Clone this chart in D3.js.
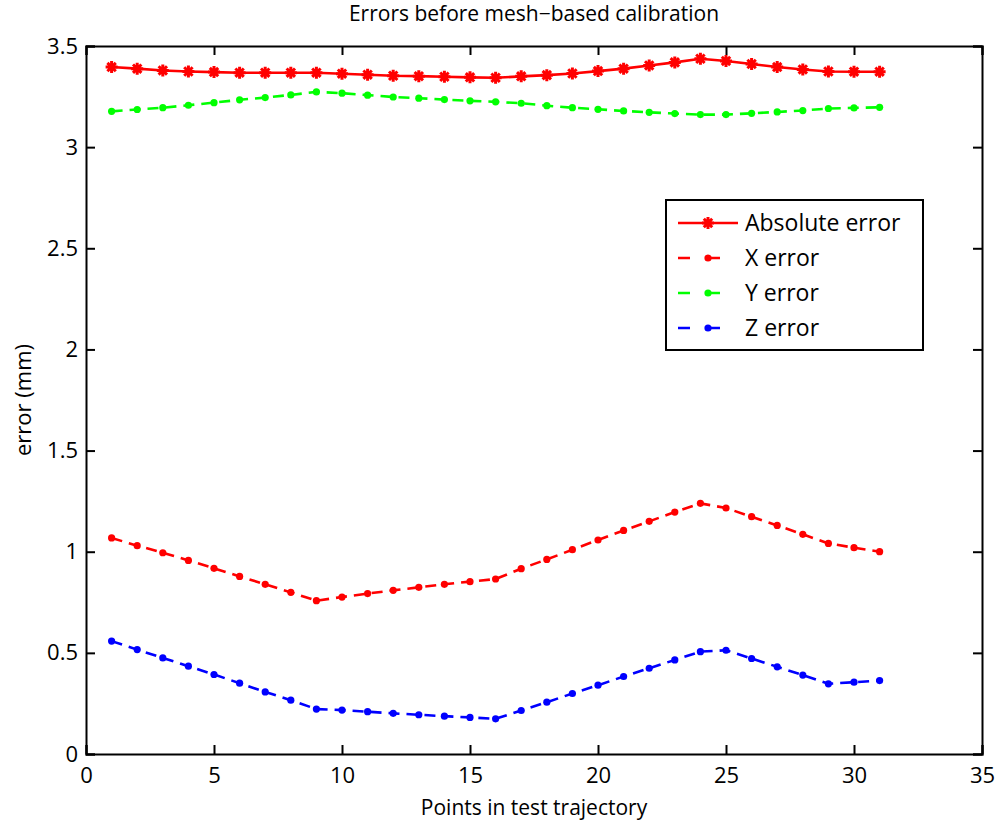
<!DOCTYPE html>
<html>
<head>
<meta charset="utf-8">
<script src="https://cdn.jsdelivr.net/npm/d3@7"></script>
<style>
  body { margin: 0; background: #fff; }
  text { font-family: "Open Sans", "Noto Sans", sans-serif; fill: #000; }
</style>
</head>
<body>
<div id="chart"></div>
<script>
const points = d3.range(1, 32);
const absError = [3.396, 3.388, 3.379, 3.374, 3.371, 3.368, 3.368, 3.368, 3.368, 3.363,
  3.358, 3.353, 3.351, 3.348, 3.345, 3.343, 3.350, 3.356, 3.364, 3.376,
  3.388, 3.404, 3.419, 3.437, 3.426, 3.411, 3.396, 3.384, 3.374, 3.373, 3.373];
const xError = [1.068, 1.030, 0.995, 0.957, 0.918, 0.878, 0.839, 0.799, 0.758, 0.776,
  0.793, 0.809, 0.824, 0.839, 0.852, 0.865, 0.916, 0.962, 1.010, 1.058,
  1.105, 1.150, 1.196, 1.239, 1.216, 1.173, 1.130, 1.086, 1.041, 1.020, 1.000];
const yError = [3.177, 3.186, 3.195, 3.207, 3.220, 3.234, 3.245, 3.258, 3.273, 3.267,
  3.257, 3.248, 3.242, 3.235, 3.229, 3.224, 3.217, 3.205, 3.195, 3.187,
  3.179, 3.172, 3.166, 3.161, 3.161, 3.167, 3.174, 3.181, 3.191, 3.194, 3.197];
const zError = [0.558, 0.516, 0.475, 0.434, 0.393, 0.350, 0.307, 0.266, 0.222, 0.217,
  0.209, 0.201, 0.194, 0.187, 0.181, 0.174, 0.215, 0.256, 0.299, 0.340,
  0.383, 0.424, 0.465, 0.506, 0.513, 0.472, 0.431, 0.390, 0.347, 0.355, 0.363];
const xTicks = [0, 5, 10, 15, 20, 25, 30, 35];
const yTicks = [0, 0.5, 1, 1.5, 2, 2.5, 3, 3.5];

const series = [
  { name: "Absolute error", values: absError, color: "#ff0000", dash: null, marker: "star" },
  { name: "X error", values: xError, color: "#ff0000", dash: "11,7", marker: "dot" },
  { name: "Y error", values: yError, color: "#00ff00", dash: "11,7", marker: "dot" },
  { name: "Z error", values: zError, color: "#0000ff", dash: "11,7", marker: "dot" }
];

const width = 1000, height = 823;
const margin = { top: 46, right: 18, bottom: 69, left: 86 };

const svg = d3.select("#chart").append("svg")
  .attr("width", width).attr("height", height);

const x = d3.scaleLinear().domain([0, 35]).range([margin.left, width - margin.right]);
const y = d3.scaleLinear().domain([0, 3.5]).range([height - margin.bottom, margin.top]);

// axes with inward ticks on all four sides
const tick = 9;
svg.append("g").attr("transform", `translate(0,${y(0)})`)
  .call(d3.axisBottom(x).tickValues(xTicks).tickSize(-tick).tickPadding(13).tickFormat(d3.format("d")));
svg.append("g").attr("transform", `translate(0,${y(3.5)})`)
  .call(d3.axisTop(x).tickValues(xTicks).tickSize(-tick).tickFormat(""));
svg.append("g").attr("transform", `translate(${x(0)},0)`)
  .call(d3.axisLeft(y).tickValues(yTicks).tickSize(-tick).tickPadding(8).tickFormat(d3.format("")));
svg.append("g").attr("transform", `translate(${x(35)},0)`)
  .call(d3.axisRight(y).tickValues(yTicks).tickSize(-tick).tickFormat(""));

svg.selectAll(".domain").attr("stroke", "#000").attr("stroke-width", 2);
svg.selectAll(".tick line").attr("stroke", "#000").attr("stroke-width", 2);
svg.selectAll(".tick text").style("font-size", "22px").attr("fill", "#000");

const line = d3.line().x((d, i) => x(points[i])).y(d => y(d));

function starPath(s) {
  const a = s * 0.7;
  return `M${-s},0L${s},0M0,${-s}L0,${s}M${-a},${-a}L${a},${a}M${-a},${a}L${a},${-a}`;
}

function drawMarker(g, m, color) {
  if (m === "star") {
    g.append("path").attr("d", starPath(6)).attr("stroke", color)
      .attr("stroke-width", 3).attr("fill", "none");
  } else {
    g.append("circle").attr("r", 3.6).attr("fill", color);
  }
}

series.forEach(s => {
  svg.append("path").datum(s.values)
    .attr("d", line).attr("fill", "none")
    .attr("stroke", s.color).attr("stroke-width", 2.6)
    .attr("stroke-dasharray", s.dash);
  s.values.forEach((v, i) => {
    const g = svg.append("g").attr("transform", `translate(${x(points[i])},${y(v)})`);
    drawMarker(g, s.marker, s.color);
  });
});

// legend
const legend = svg.append("g").attr("transform", "translate(666,200)");
legend.append("rect").attr("width", 257).attr("height", 150)
  .attr("fill", "#fff").attr("stroke", "#000").attr("stroke-width", 2);
series.forEach((s, i) => {
  const ly = 23 + i * 35;
  legend.append("line").attr("x1", 12).attr("x2", 72).attr("y1", ly).attr("y2", ly)
    .attr("stroke", s.color).attr("stroke-width", 2.6)
    .attr("stroke-dasharray", s.dash ? "12,18" : null);
  const g = legend.append("g").attr("transform", `translate(42,${ly})`);
  drawMarker(g, s.marker, s.color);
  legend.append("text").attr("x", 79).attr("y", ly).attr("dy", "0.36em")
    .style("font-size", "23px").text(s.name);
});

// titles
svg.append("text").attr("x", (x(0) + x(35)) / 2).attr("y", 21)
  .attr("text-anchor", "middle").style("font-size", "21px")
  .text("Errors before mesh\u2212based calibration");
svg.append("text").attr("x", (x(0) + x(35)) / 2).attr("y", 815)
  .attr("text-anchor", "middle").style("font-size", "21px")
  .text("Points in test trajectory");
svg.append("text")
  .attr("transform", `translate(31,${(y(0) + y(3.5)) / 2}) rotate(-90)`)
  .attr("text-anchor", "middle").style("font-size", "22px")
  .text("error (mm)");
</script>
</body>
</html>
